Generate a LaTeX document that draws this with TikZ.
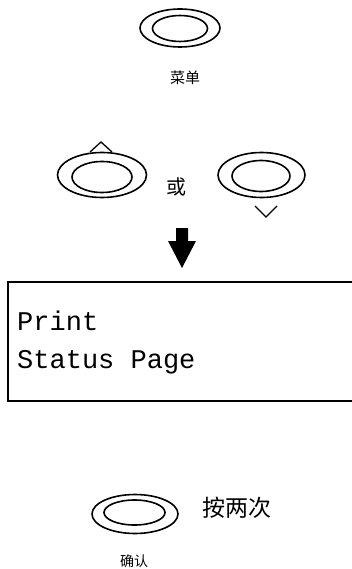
\documentclass[tikz,border=0pt]{standalone}
\usepackage{fontspec}
\usetikzlibrary{shapes.geometric}
\newfontfamily\cjk{Noto Sans CJK SC}
\newfontfamily\mono{Liberation Mono}
\begin{document}
\begin{tikzpicture}[x=1pt,y=-1pt,
  outerring/.style={draw, ellipse, line width=1.6pt, inner sep=0pt},
  innerring/.style={draw, ellipse, line width=1.6pt, inner sep=0pt},
  caret/.style={line width=1.3pt},
  cjklabel/.style={inner sep=0pt, font=\cjk\fontsize{#1}{#1}\selectfont},
  lcd/.style={anchor=base west, inner sep=0pt, font=\mono\fontsize{27}{27}\selectfont}]
\useasboundingbox (0,0) rectangle (352,569);
% menu button
\node[outerring, minimum width=80pt, minimum height=38pt] (menuO) at (180,28) {};
\node[innerring, minimum width=55pt, minimum height=26pt] (menuI) at (180,28.5) {};
\node[cjklabel=15] (menuT) at (185,78) {菜单};
% up / down buttons
\node[outerring, minimum width=89pt, minimum height=45pt] (upO) at (102,175) {};
\node[innerring, minimum width=60pt, minimum height=31pt] (upI) at (102,177) {};
\draw[caret] (90,152) -- (101,142) -- (112,152);
\node[cjklabel=20] (orT) at (176,187) {或};
\node[outerring, minimum width=87pt, minimum height=45pt] (dnO) at (261.5,175) {};
\node[innerring, minimum width=58pt, minimum height=31pt] (dnI) at (261,176) {};
\draw[caret] (255,206) -- (266,217) -- (277,206);
% arrow
\fill (176,228) -- (188,228) -- (188,241) -- (196,241) -- (182,268) -- (168,241) -- (176,241) -- cycle;
% display
\draw[line width=2pt] (354,282) -- (8,282) -- (8,400.5) -- (354,400.5);
\node[lcd] (l1) at (17,330) {Print};
\node[lcd] (l2) at (17,368) {Status Page};
% OK button
\node[outerring, minimum width=86pt, minimum height=39pt] (okO) at (135,514) {};
\node[innerring, minimum width=61pt, minimum height=25pt] (okI) at (134.5,512.5) {};
\node[cjklabel=23] (twiceT) at (237,508) {按两次};
\node[cjklabel=14] (okT) at (134,561) {确认};
\end{tikzpicture}
\end{document}
